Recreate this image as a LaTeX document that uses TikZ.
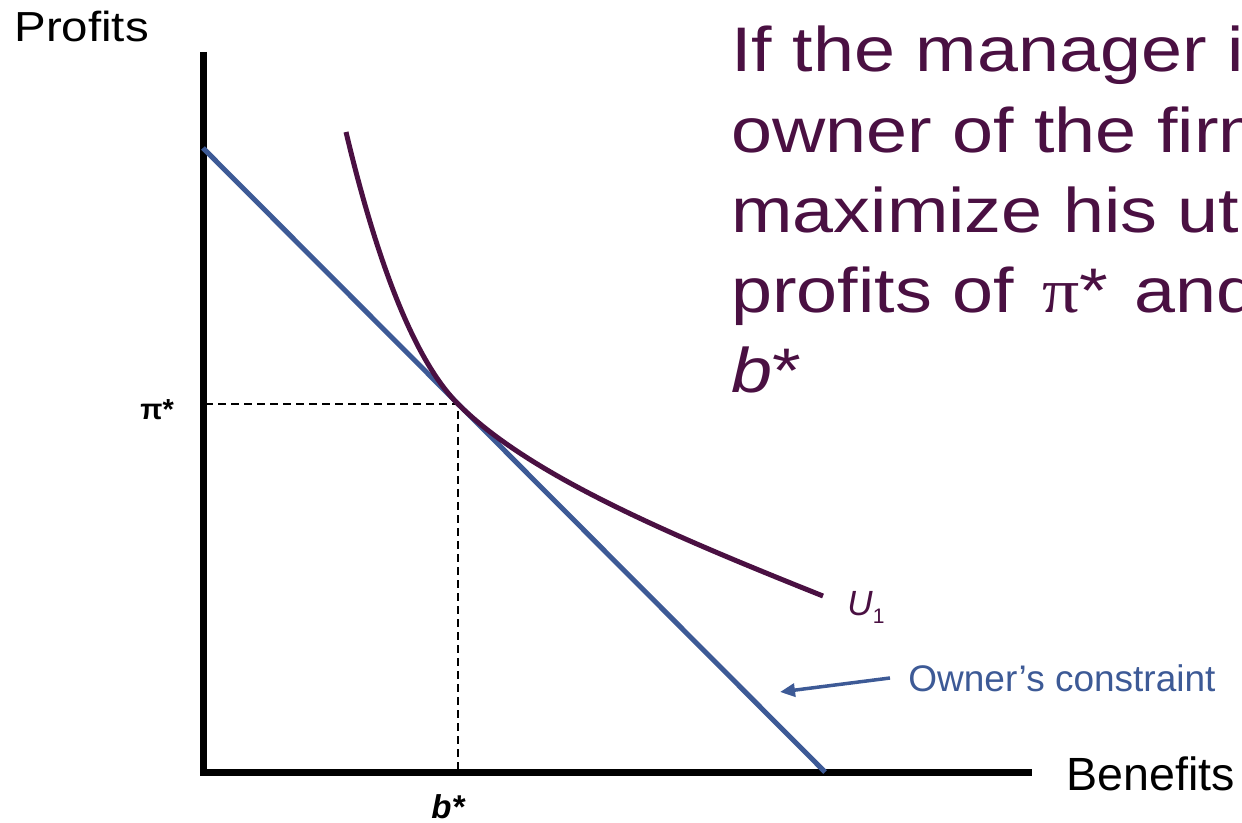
\documentclass[tikz,border=0pt]{standalone}
\usepackage{fontspec}
\setmainfont{Liberation Sans}
\newfontfamily\wsans[FakeStretch=1.17]{Liberation Sans}
\newfontfamily\wserif[FakeStretch=1.17]{Liberation Serif}
\newfontfamily\psans[FakeStretch=1.13]{Liberation Sans}
\usetikzlibrary{arrows.meta}
\definecolor{plum}{HTML}{4A1042}
\definecolor{navy}{HTML}{3D5A96}
\tikzset{
  axisline/.style={line width=3.5pt, black, line join=miter},
  budget/.style={line width=2.5pt, navy},
  utility/.style={line width=2.5pt, plum},
  guide/.style={line width=0.8pt, black, dash pattern=on 4pt off 2.5pt},
  lbl/.style={inner sep=0pt, anchor=base west},
  bigtext/.style={lbl, text=plum, font=\wsans\fontsize{31.5}{38}\selectfont},
}
\begin{document}
\begin{tikzpicture}[x=0.5pt,y=-0.5pt]
\useasboundingbox (0,0) rectangle (1242,823);
\clip (0,0) rectangle (1242,823);

% axes
\coordinate (ytop) at (203,52);
\coordinate (orig) at (203,772);
\coordinate (xend) at (1032,772);
\draw[axisline] (ytop) -- (orig) -- (xend);

% owner's constraint line
\coordinate (bA) at (203,148);
\coordinate (bB) at (825,772);
\draw[budget] (bA) -- (bB);

% tangency guides
\coordinate (tan) at (458,404);
\coordinate (tanY) at (205,404);
\coordinate (tanX) at (458,770);
\draw[guide] (tanY) -- (tan) -- (tanX);

% indifference curve
\coordinate (uS) at (346,132);
\coordinate (uE) at (823,596);
\draw[utility] (uS) .. controls (371,237) and (408,354) .. (tan)
                    .. controls (530,476) and (673,536) .. (uE);

% labels
\node[lbl, font=\fontsize{21}{25}\selectfont\psans] (profits) at (14,42) {Profits};
\node[lbl, font=\fontsize{23.3}{27}\selectfont] (benefits) at (1066,790) {Benefits};
\node[lbl, font=\fontsize{14.5}{17}\selectfont\bfseries] (pistar) at (140,420) {π*};
\node[lbl, font=\fontsize{16.5}{19}\selectfont\bfseries\itshape] (bstar) at (431,818) {b*};
\node[lbl, text=plum, font=\fontsize{17.5}{20}\selectfont] (uone) at (847,615)
  {\textit{U}\raisebox{-4pt}{\fontsize{10.5}{12}\selectfont 1}};

\node[inner xsep=9pt, inner ysep=0pt, anchor=west, text=navy,
      font=\fontsize{18.5}{22}\selectfont] (oc) at (890,678) {Owner’s constraint};
\coordinate (octip) at (780,692);
\draw[line width=1.75pt, navy, -{Triangle[length=7.5pt,width=6.5pt]}] (oc.west) -- (octip);

% right-hand text
\node[bigtext] (l1) at (731,72) {If the manager is the};
\node[bigtext] (l2) at (731,152.5) {owner of the firm, he will};
\node[bigtext] (l3) at (731,233) {maximize his utility with};
\node[bigtext] (l4) at (731,313) {profits of\hspace{4pt} {\wserif π}*\hspace{3pt} and benefits of};
\node[bigtext] (l5) at (731,393) {\textit{b}*};
\end{tikzpicture}
\end{document}
